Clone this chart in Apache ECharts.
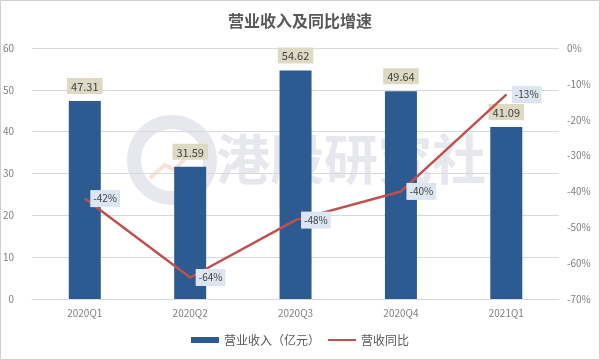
<!DOCTYPE html>
<html><head><meta charset="utf-8">
<script src="https://cdn.jsdelivr.net/npm/echarts@6/dist/echarts.min.js"></script>
<style>html,body{margin:0;padding:0;background:#fff}#c{width:600px;height:360px}</style>
</head><body><div id="c"></div>
<script>
const categories = ['2020Q1','2020Q2','2020Q3','2020Q4','2021Q1'];
const revenue = [47.31, 31.59, 54.62, 49.64, 41.09];
const yoy = [-42, -64, -48, -40, -13];
const leftTicks = [0,10,20,30,40,50,60];
const rightTicks = [-70,-60,-50,-40,-30,-20,-10,0];

const chart = echarts.init(document.getElementById('c'));
const font = '"Noto Sans CJK SC", "Microsoft YaHei", sans-serif';
chart.setOption({
  animation: false,
  textStyle: {fontFamily: font},
  title: {text: '营业收入及同比增速', left: 'center', top: 8,
    textStyle: {fontSize: 16, fontWeight: 'bold', color: '#595959', fontFamily: font}},
  graphic: [
    {type: 'rect', shape: {x: 0.5, y: 0.5, width: 599, height: 359}, style: {fill: 'none', stroke: '#d0d0d0', lineWidth: 1}, silent: true, z: -20},
    {type: 'circle', shape: {cx: 172, cy: 160, r: 38}, style: {fill: 'none', stroke: 'rgba(200,205,215,0.45)', lineWidth: 14}, z: -10, silent: true},
    {type: 'polyline', shape: {points: [[150,178],[165,165],[175,170],[192,150]]}, style: {stroke: 'rgba(240,170,140,0.35)', lineWidth: 4, fill: 'none'}, z: -10, silent: true},
    {type: 'text', left: 216, top: 132, style: {text: '港股研究社', fill: 'rgba(200,205,215,0.45)', font: 'bold 54px ' + font}, z: -10, silent: true}
  ],
  legend: {bottom: 9, left: 'center', itemGap: 8, itemWidth: 28, itemHeight: 6,
    textStyle: {fontSize: 12, color: '#595959'},
    data: [{name: '营业收入（亿元）', icon: 'rect'},
           {name: '营收同比', icon: 'path://M0,0 L28,0 L28,2 L0,2 Z'}]},
  grid: {left: 29, right: 41, top: 48, bottom: 61},
  xAxis: {type: 'category', data: categories,
    axisLine: {lineStyle: {color: '#d9d9d9'}}, axisTick: {show: false},
    axisLabel: {color: '#7f7f7f', fontSize: 10, margin: 9}},
  yAxis: [
    {type: 'value', min: 0, max: 60, interval: 10,
      axisLabel: {color: '#7f7f7f', fontSize: 10, margin: 18},
      splitLine: {lineStyle: {color: '#d9d9d9'}}, axisLine: {show: false}},
    {type: 'value', min: -70, max: 0, interval: 10,
      axisLabel: {color: '#7f7f7f', fontSize: 10, formatter: '{value}%', margin: 8},
      splitLine: {show: false}, axisLine: {show: false}}
  ],
  series: [
    {name: '营业收入（亿元）', type: 'bar', data: revenue, barWidth: 32, z: 2,
      itemStyle: {color: '#2E5A92'},
      label: {show: true, position: 'top', distance: 7, color: '#404040', fontSize: 11,
        backgroundColor: '#DDD9C3', padding: [3, 4, 2, 4], formatter: p => p.value.toFixed(2)}},
    {name: '营收同比', type: 'line', yAxisIndex: 1, data: yoy, z: 3,
      symbol: 'circle', symbolSize: 1, showSymbol: true,
      lineStyle: {color: '#C0504D', width: 2.5}, itemStyle: {color: '#C0504D'},
      label: {show: true, position: 'right', distance: 5, color: '#404040', fontSize: 10,
        backgroundColor: '#DCE6F2', padding: [4, 3, 3, 3], formatter: '{c}%'}}
  ]
});
</script></body></html>
